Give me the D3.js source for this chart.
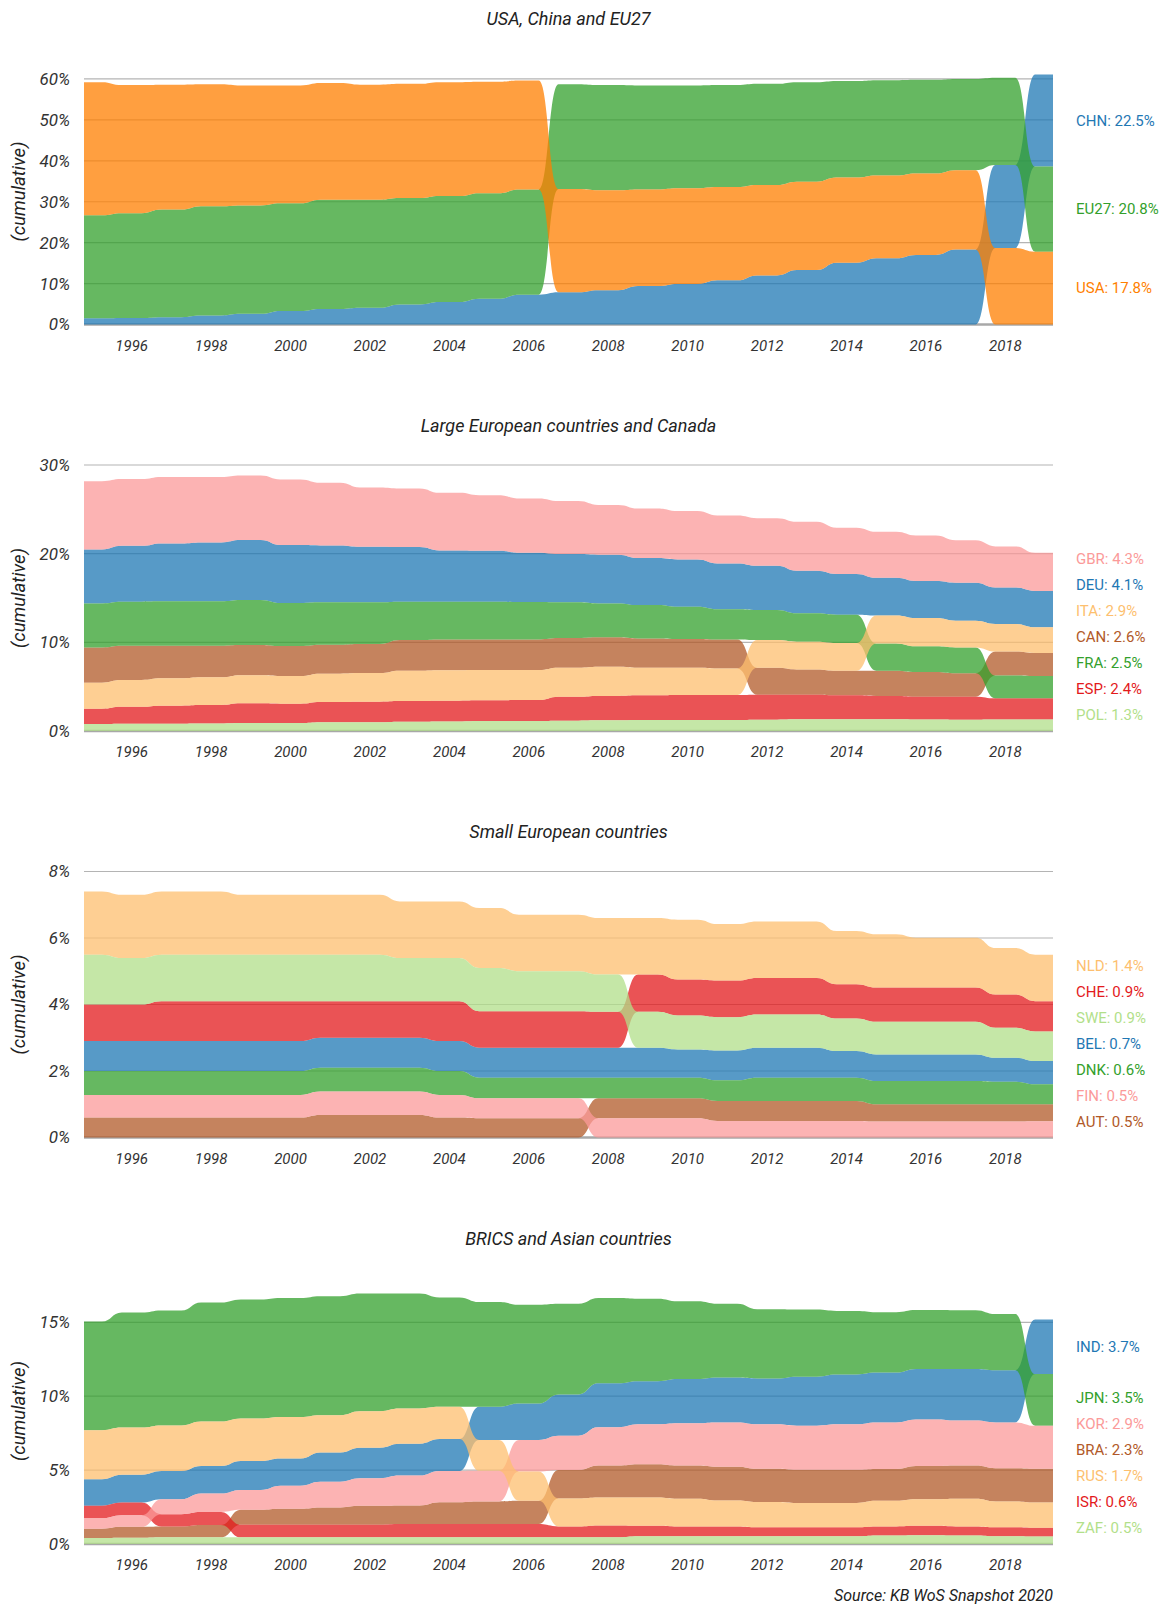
<!DOCTYPE html>
<html>
<head>
<meta charset="utf-8">
<script src="https://cdn.jsdelivr.net/npm/d3@7"></script>
<style>
  body { margin: 0; background: #fff; }
  text { font-family: Roboto, "Noto Sans", sans-serif; }
</style>
</head>
<body>
<svg id="chart" width="1164" height="1605"></svg>
<script>
// Publication years shown on every panel
const years = [1995, 1996, 1997, 1998, 1999, 2000, 2001, 2002, 2003, 2004, 2005, 2006,
               2007, 2008, 2009, 2010, 2011, 2012, 2013, 2014, 2015, 2016, 2017, 2018, 2019];
const yearTicks = [1996, 1998, 2000, 2002, 2004, 2006, 2008, 2010, 2012, 2014, 2016, 2018];

const titles = ["USA, China and EU27", "Large European countries and Canada",
                "Small European countries", "BRICS and Asian countries"];

// Shares of world output (%), panel 1
const codes1 = ["CHN", "EU27", "USA"];
const chn  = [1.5, 1.6, 1.8, 2.2, 2.6, 3.3, 3.8, 4.1, 4.9, 5.5, 6.3, 7.3, 7.9, 8.4, 9.4, 9.9, 10.8, 12.0, 13.3, 15.1, 16.2, 17.0, 18.3, 20.3, 22.5];
const eu27 = [25.2, 25.6, 26.3, 26.7, 26.5, 26.3, 26.7, 26.4, 26.0, 25.9, 25.8, 25.7, 25.6, 25.7, 25.4, 25.1, 24.9, 24.7, 24.3, 23.6, 23.3, 22.9, 22.3, 21.3, 20.8];
const usa  = [32.5, 31.3, 30.5, 29.8, 29.3, 28.8, 28.5, 28.1, 27.9, 27.8, 27.2, 26.6, 25.2, 24.4, 23.6, 23.4, 22.8, 22.1, 21.6, 20.8, 20.2, 19.9, 19.4, 18.7, 17.8];
const ticks1 = [0, 10, 20, 30, 40, 50, 60];

// Panel 2
const codes2 = ["GBR", "DEU", "ITA", "CAN", "FRA", "ESP", "POL"];
const gbr = [7.70, 7.52, 7.48, 7.37, 7.29, 7.40, 7.07, 6.69, 6.62, 6.50, 6.27, 6.13, 5.98, 5.62, 5.60, 5.45, 5.40, 5.36, 5.52, 5.20, 5.19, 5.13, 4.78, 4.64, 4.3];
const deu = [6.09, 6.31, 6.54, 6.65, 6.76, 6.54, 6.42, 6.27, 6.16, 5.79, 5.75, 5.56, 5.44, 5.49, 5.30, 5.35, 5.18, 5.00, 4.81, 4.60, 4.24, 4.17, 4.28, 4.10, 4.1];
const ita = [2.93, 3.01, 3.08, 3.12, 3.16, 3.12, 3.19, 3.22, 3.42, 3.44, 3.42, 3.39, 3.28, 3.30, 3.12, 3.08, 3.00, 3.12, 3.12, 3.12, 3.15, 3.19, 3.01, 3.12, 2.9];
const can = [3.98, 3.87, 3.68, 3.57, 3.42, 3.38, 3.27, 3.28, 3.46, 3.47, 3.45, 3.45, 3.34, 3.31, 3.30, 3.25, 3.27, 3.04, 2.85, 2.78, 2.85, 2.78, 2.63, 2.70, 2.6];
const fra = [4.96, 4.96, 5.00, 5.00, 5.07, 4.85, 4.78, 4.70, 4.32, 4.25, 4.25, 4.21, 4.03, 3.83, 3.76, 3.61, 3.39, 3.38, 3.20, 3.20, 3.08, 2.90, 2.93, 2.58, 2.5];
const esp = [1.72, 1.91, 2.03, 2.08, 2.22, 2.18, 2.27, 2.31, 2.33, 2.34, 2.33, 2.36, 2.70, 2.75, 2.78, 2.82, 2.82, 2.82, 2.78, 2.70, 2.63, 2.57, 2.59, 2.38, 2.4];
const pol = [0.80, 0.83, 0.83, 0.85, 0.90, 0.90, 1.00, 1.00, 1.05, 1.08, 1.13, 1.13, 1.16, 1.20, 1.24, 1.24, 1.24, 1.28, 1.32, 1.32, 1.32, 1.30, 1.28, 1.30, 1.3];
const ticks2 = [0, 10, 20, 30];

// Panel 3
const codes3 = ["NLD", "CHE", "SWE", "BEL", "DNK", "FIN", "AUT"];
const nld = [1.9, 1.9, 1.9, 1.9, 1.8, 1.8, 1.8, 1.8, 1.7, 1.7, 1.8, 1.7, 1.7, 1.7, 1.7, 1.8, 1.7, 1.7, 1.7, 1.6, 1.6, 1.5, 1.5, 1.4, 1.4];
const che = [1.1, 1.1, 1.2, 1.2, 1.2, 1.2, 1.1, 1.1, 1.1, 1.2, 1.1, 1.1, 1.1, 1.08, 1.12, 1.08, 1.1, 1.1, 1.1, 1.03, 1.03, 1.03, 1.03, 1.0, 0.91];
const swe = [1.5, 1.4, 1.4, 1.4, 1.4, 1.4, 1.4, 1.4, 1.3, 1.3, 1.3, 1.2, 1.2, 1.12, 1.08, 1.02, 1.0, 1.0, 1.0, 0.98, 0.98, 0.98, 0.98, 0.9, 0.89];
const bel = [0.9, 0.9, 0.9, 0.9, 0.9, 0.9, 0.9, 0.9, 0.9, 0.9, 0.9, 0.9, 0.9, 0.9, 0.9, 0.85, 0.9, 0.9, 0.9, 0.8, 0.8, 0.8, 0.8, 0.72, 0.7];
const dnk = [0.72, 0.72, 0.72, 0.72, 0.72, 0.72, 0.72, 0.72, 0.72, 0.72, 0.62, 0.62, 0.62, 0.62, 0.62, 0.62, 0.62, 0.7, 0.7, 0.7, 0.7, 0.7, 0.7, 0.68, 0.6];
const fin = [0.68, 0.68, 0.68, 0.68, 0.68, 0.68, 0.7, 0.7, 0.7, 0.68, 0.6, 0.6, 0.6, 0.58, 0.58, 0.58, 0.5, 0.5, 0.5, 0.5, 0.48, 0.48, 0.48, 0.48, 0.49];
const aut = [0.6, 0.6, 0.6, 0.6, 0.6, 0.6, 0.68, 0.68, 0.68, 0.6, 0.58, 0.58, 0.58, 0.6, 0.6, 0.6, 0.6, 0.6, 0.6, 0.6, 0.52, 0.52, 0.52, 0.52, 0.51];
const ticks3 = [0, 2, 4, 6, 8];

// Panel 4
const codes4 = ["IND", "JPN", "KOR", "BRA", "RUS", "ISR", "ZAF"];
const ind = [1.80, 1.89, 1.91, 1.87, 1.96, 1.84, 1.98, 2.07, 2.16, 2.16, 2.25, 2.47, 2.79, 2.97, 2.92, 2.99, 3.04, 3.10, 3.31, 3.37, 3.37, 3.42, 3.49, 3.53, 3.7];
const jpn = [7.35, 7.78, 7.78, 8.05, 8.05, 8.05, 8.05, 7.96, 7.78, 7.40, 7.08, 6.68, 6.14, 5.78, 5.58, 5.26, 4.99, 4.68, 4.54, 4.30, 4.09, 3.98, 3.98, 3.80, 3.5];
const kor = [0.70, 0.79, 1.01, 1.24, 1.35, 1.57, 1.75, 1.87, 2.02, 2.11, 2.07, 2.14, 2.32, 2.59, 2.70, 2.86, 2.99, 3.01, 2.99, 3.08, 3.15, 3.15, 3.04, 3.10, 2.9];
const bra = [0.64, 0.74, 0.74, 0.84, 1.01, 1.08, 1.17, 1.28, 1.26, 1.48, 1.53, 1.57, 1.93, 2.16, 2.25, 2.25, 2.29, 2.25, 2.25, 2.25, 2.16, 2.25, 2.25, 2.25, 2.3];
const rus = [3.31, 3.19, 3.08, 3.01, 2.88, 2.81, 2.52, 2.47, 2.38, 2.18, 2.09, 1.98, 1.89, 1.89, 1.91, 1.87, 1.75, 1.71, 1.64, 1.64, 1.73, 1.80, 1.87, 1.75, 1.7];
const isr = [0.85, 0.85, 0.83, 0.88, 0.85, 0.85, 0.85, 0.85, 0.90, 0.90, 0.90, 0.90, 0.74, 0.81, 0.72, 0.67, 0.67, 0.61, 0.61, 0.61, 0.61, 0.63, 0.61, 0.61, 0.6];
const zaf = [0.40, 0.42, 0.45, 0.45, 0.45, 0.45, 0.45, 0.45, 0.45, 0.45, 0.45, 0.45, 0.45, 0.45, 0.52, 0.52, 0.52, 0.52, 0.52, 0.52, 0.58, 0.60, 0.58, 0.52, 0.5];
const ticks4 = [0, 5, 10, 15];

// Colour (d3.schemePaired index) for each country code
const paletteIndex = {
  CHN: 1, EU27: 3, USA: 7,
  GBR: 4, DEU: 1, ITA: 6, CAN: 11, FRA: 3, ESP: 5, POL: 2,
  NLD: 6, CHE: 5, SWE: 2, BEL: 1, DNK: 3, FIN: 4, AUT: 11,
  IND: 1, JPN: 3, KOR: 4, BRA: 11, RUS: 6, ISR: 5, ZAF: 2
};

const panels = [
  { title: titles[0], codes: codes1, values: [chn, eu27, usa], ticks: ticks1, max: 65 },
  { title: titles[1], codes: codes2, values: [gbr, deu, ita, can, fra, esp, pol], ticks: ticks2, max: 30 },
  { title: titles[2], codes: codes3, values: [nld, che, swe, bel, dnk, fin, aut], ticks: ticks3, max: 8 },
  { title: titles[3], codes: codes4, values: [ind, jpn, kor, bra, rus, isr, zaf], ticks: ticks4, max: 18 }
];

const svg = d3.select("#chart");
const plotLeft = 84, plotRight = 1053, plotHeight = 266;
const firstBase = 324.5, panelStep = 406.5;
const half = 0.25;                       // half width of each year's plateau
const xDomain = [1994.8, 2019.2];
const x = d3.scaleLinear().domain(xDomain).range([plotLeft, plotRight]);
const pct = d3.format(".1f");

// push labels apart (list order top to bottom) and keep them above the baseline
function spreadLabels(targets, gap, maxY) {
  const ys = targets.slice();
  for (let it = 0; it < 400; it++) {
    for (let i = 0; i < ys.length - 1; i++) {
      const d = ys[i + 1] - ys[i];
      if (d < gap) { const m = (gap - d) / 2; ys[i] -= m; ys[i + 1] += m; }
    }
    if (ys[ys.length - 1] > maxY) ys[ys.length - 1] = maxY;
  }
  return ys;
}

panels.forEach((p, k) => {
  const base = firstBase + panelStep * k;
  const y = d3.scaleLinear().domain([0, p.max]).range([base, base - plotHeight]);
  const g = svg.append("g");

  // title
  g.append("text")
    .attr("x", (plotLeft + plotRight) / 2).attr("y", base - 306)
    .attr("text-anchor", "middle").attr("dominant-baseline", "central")
    .style("font-size", "18px").style("font-style", "italic").attr("fill", "#222")
    .text(p.title);

  // gridlines and y tick labels
  p.ticks.forEach(t => {
    g.append("line")
      .attr("x1", plotLeft).attr("x2", plotRight)
      .attr("y1", y(t)).attr("y2", y(t))
      .attr("stroke", t === 0 ? "#a8a8a8" : "#b4b4b4")
      .attr("stroke-width", t === 0 ? 2.5 : 1.2);
    g.append("text")
      .attr("x", 70).attr("y", y(t)).attr("dy", "0.35em")
      .attr("text-anchor", "end")
      .style("font-size", "17px").style("font-style", "italic").attr("fill", "#333")
      .text(t + "%");
  });

  g.append("text")
    .attr("transform", `translate(19,${base - plotHeight / 2}) rotate(-90)`)
    .attr("text-anchor", "middle").attr("dominant-baseline", "central")
    .style("font-size", "18.5px").style("font-style", "italic").attr("fill", "#222")
    .text("(cumulative)");

  // x tick labels
  yearTicks.forEach(yr => {
    g.append("text")
      .attr("x", x(yr)).attr("y", base + 21).attr("dy", "0.35em")
      .attr("text-anchor", "middle")
      .style("font-size", "15px").style("font-style", "italic").attr("fill", "#333")
      .text(yr);
  });

  // rank-ordered stack: each year smallest share at the bottom
  const n = p.codes.length;
  const bands = p.codes.map(() => []);
  years.forEach((yr, i) => {
    const order = d3.range(n).sort((a, b) => p.values[a][i] - p.values[b][i]);
    let acc = 0;
    order.forEach(s => {
      const v = p.values[s][i];
      const x0 = i === 0 ? xDomain[0] : yr - half;
      const x1 = i === years.length - 1 ? xDomain[1] : yr + half;
      bands[s].push({ x: x0, y0: acc, y1: acc + v });
      bands[s].push({ x: x1, y0: acc, y1: acc + v });
      acc += v;
    });
  });

  const area = d3.area()
    .x(d => x(d.x)).y0(d => y(d.y0)).y1(d => y(d.y1))
    .curve(d3.curveBumpX);

  const drawOrder = d3.range(n).sort((a, b) => d3.ascending(p.codes[a], p.codes[b]));
  g.append("g").selectAll("path")
    .data(drawOrder)
    .join("path")
    .attr("d", s => area(bands[s]))
    .attr("fill", s => d3.schemePaired[paletteIndex[p.codes[s]]])
    .attr("fill-opacity", 0.75);

  // end labels with the last year's share
  const last = years.length - 1;
  const targets = p.codes.map((c, s) => {
    const b = bands[s][bands[s].length - 1];
    return y((b.y0 + b.y1) / 2);
  });
  const ly = spreadLabels(targets, 26, base - 16);
  p.codes.forEach((c, s) => {
    g.append("text")
      .attr("x", 1076).attr("y", ly[s]).attr("dy", "0.35em")
      .style("font-size", "15px")
      .attr("fill", d3.schemePaired[paletteIndex[c]])
      .text(`${c}: ${pct(p.values[s][last])}%`);
  });
});

svg.append("text")
  .attr("x", plotRight).attr("y", 1595).attr("dy", "0.35em")
  .attr("text-anchor", "end")
  .style("font-size", "16px").style("font-style", "italic").attr("fill", "#222")
  .text("Source: KB WoS Snapshot 2020");
</script>
</body>
</html>
